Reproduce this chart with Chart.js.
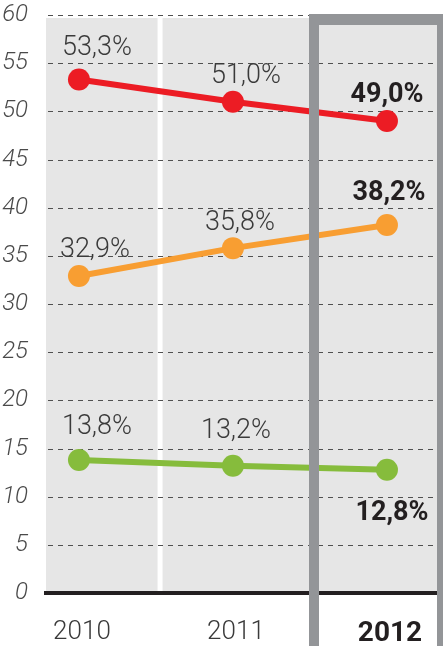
<!DOCTYPE html>
<html><head><meta charset="utf-8">
<script src="https://cdn.jsdelivr.net/npm/chart.js@4.4.0/dist/chart.umd.min.js"></script>
<style>html,body{margin:0;padding:0;background:#fff;}canvas{display:block}</style>
</head><body>
<canvas id="c" width="443" height="646"></canvas>
<script>
// ---- data ----
const years = [2010, 2011, 2012];
const yearLabels = ['2010', '2011', '2012'];
const redValues = [53.3, 51.0, 49.0];
const orangeValues = [32.9, 35.8, 38.2];
const greenValues = [13.8, 13.2, 12.8];
const yTickValues = [0, 5, 10, 15, 20, 25, 30, 35, 40, 45, 50, 55, 60];

const FONT = "Roboto, 'Liberation Sans', Arial, sans-serif";
const RED = '#ec1c24', ORANGE = '#f89e32', GREEN = '#86bc3c';
const HIGHLIGHT = 2012;

function toPoints(vals) { return years.map((y, i) => ({ x: y, y: vals[i] })); }

const decoPlugin = {
  id: 'deco',
  beforeDraw(chart) {
    const { ctx, chartArea: a, scales: { x } } = chart;
    ctx.save();
    ctx.fillStyle = '#e6e6e6';
    ctx.fillRect(a.left, a.top + 3, a.right - a.left, a.bottom - a.top - 3);
    const sx = x.getPixelForValue(2010.53);
    ctx.fillStyle = '#ffffff';
    ctx.fillRect(sx - 3, a.top, 5, a.bottom - a.top);
    ctx.restore();
  },
  beforeDatasetsDraw(chart) {
    // dashed horizontal grid lines at the y scale's ticks
    const { ctx, chartArea: a, scales: { y } } = chart;
    ctx.save();
    ctx.strokeStyle = '#505050';
    ctx.lineWidth = 1;
    ctx.setLineDash([5, 5]);
    y.ticks.forEach(t => {
      if (t.value === 0) return;
      const py = Math.round(y.getPixelForValue(t.value)) + 0.5;
      ctx.beginPath();
      ctx.moveTo(a.left + 2, py);
      ctx.lineTo(a.right, py);
      ctx.stroke();
    });
    ctx.restore();
  },
  afterDatasetsDraw(chart) {
    const { ctx, chartArea: a, scales: { x } } = chart;
    const W = chart.width, H = chart.height;
    const bx = Math.round(x.getPixelForValue(2011.494));
    const top = a.top - 1;
    ctx.save();
    ctx.fillStyle = '#939598';
    ctx.fillRect(bx, top, 10, H - top);
    ctx.fillRect(bx, top, W - bx, 11);
    ctx.fillRect(a.right, top, W - a.right, H - top);
    ctx.restore();
  },
  afterDraw(chart) {
    const { ctx } = chart;
    ctx.save();
    ctx.textAlign = 'center';
    ctx.textBaseline = 'alphabetic';
    chart.data.datasets.forEach((ds, di) => {
      const meta = chart.getDatasetMeta(di);
      const offs = ds.labelOffsets;
      meta.data.forEach((pt, i) => {
        const v = ds.data[i].y;
        const txt = v.toFixed(1).replace('.', ',') + '%';
        const bold = years[i] === HIGHLIGHT;
        ctx.font = (bold ? '700 ' : '300 ') + '27px ' + FONT;
        ctx.fillStyle = bold ? '#231f20' : '#3a3a3a';
        ctx.fillText(txt, pt.x + offs[i][0], pt.y + offs[i][1]);
      });
    });
    ctx.restore();
  }
};

function lineDs(label, vals, color, labelOffsets) {
  return {
    label, data: toPoints(vals),
    borderColor: color, backgroundColor: color,
    borderWidth: 6, pointRadius: 11, pointHoverRadius: 11,
    pointBorderWidth: 0, pointBackgroundColor: color, tension: 0,
    labelOffsets
  };
}

new Chart(document.getElementById('c'), {
  type: 'line',
  data: {
    datasets: [
      lineDs('red', redValues, RED, [[18, -25], [13, -19], [0, -19]]),
      lineDs('orange', orangeValues, ORANGE, [[16, -19], [7, -18], [2, -25]]),
      lineDs('green', greenValues, GREEN, [[18, -26], [3, -28], [5, 50]])
    ]
  },
  options: {
    responsive: false, animation: false, devicePixelRatio: 1, events: [],
    layout: { autoPadding: false, padding: { top: 15, right: 6, left: 0, bottom: 0 } },
    plugins: { legend: { display: false }, tooltip: { enabled: false } },
    scales: {
      x: {
        type: 'linear', min: 2009.786, max: 2012.325,
        afterBuildTicks(s) { s.ticks = years.map(v => ({ value: v })); },
        afterFit(s) { s.height = 53; s.paddingLeft = 0; s.paddingRight = 0; },
        grid: { display: false },
        border: { display: true, color: '#231f20', width: 4 },
        ticks: {
          padding: 16, maxRotation: 0, autoSkip: false, labelOffset: 3,
          callback: (v) => yearLabels[years.indexOf(v)],
          color: (c) => (c.tick && c.tick.value === HIGHLIGHT) ? '#231f20' : '#3a3a3a',
          font: (c) => (c.tick && c.tick.value === HIGHLIGHT)
            ? { family: FONT, size: 28, weight: '700' }
            : { family: FONT, size: 26, weight: '300' }
        }
      },
      y: {
        min: 0, max: 60,
        afterBuildTicks(s) { s.ticks = yTickValues.map(v => ({ value: v })); },
        afterFit(s) { s.width = 46; s.paddingTop = 0; s.paddingBottom = 0; },
        grid: { display: false },
        border: { display: false },
        ticks: {
          padding: 10, color: '#4a4a4a',
          font: { family: FONT, size: 24, weight: '300', style: 'italic' }
        }
      }
    }
  },
  plugins: [decoPlugin]
});
</script>
</body></html>
